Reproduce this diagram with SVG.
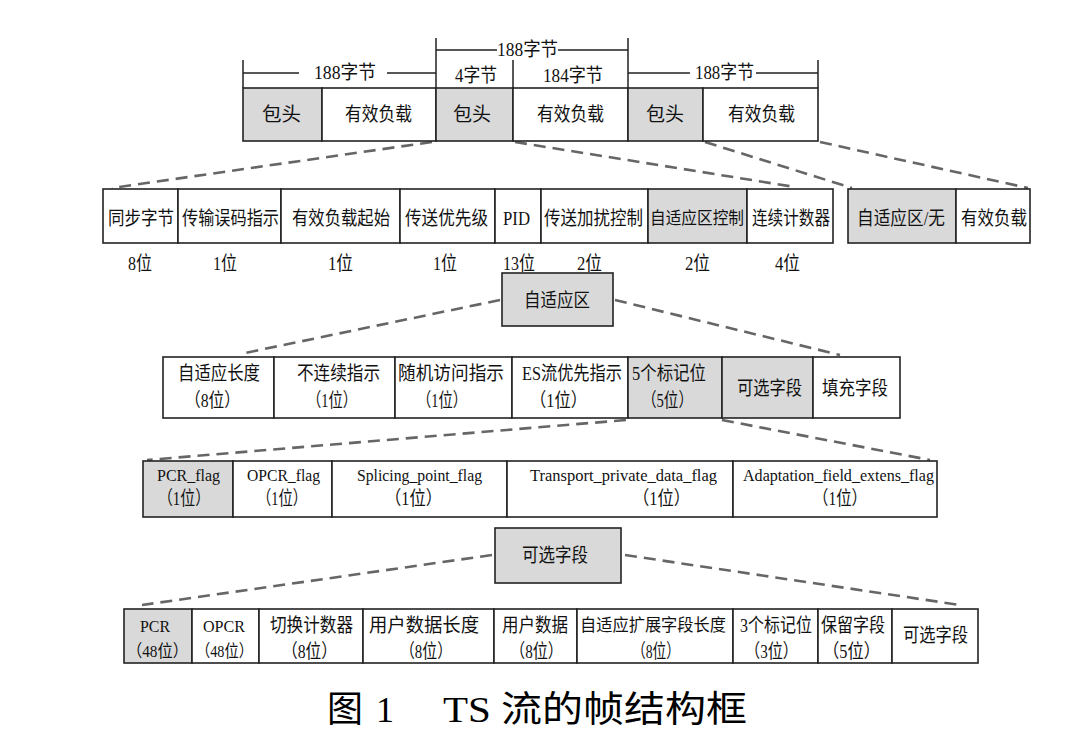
<svg xmlns="http://www.w3.org/2000/svg" width="1073" height="744" viewBox="0 0 1073 744">
<style>
.b{fill:#fff;stroke:#222;stroke-width:1.6}
.g{fill:#d9d9d9;stroke:#222;stroke-width:1.6}
.d{fill:none;stroke:#666;stroke-width:2.6;stroke-dasharray:12 7}
.dim{fill:none;stroke:#222;stroke-width:1.5}
.t{font-family:"Liberation Serif","Noto Sans CJK SC",serif;font-size:19px;fill:#111}
.s{font-size:17px}
.l{font-family:"Liberation Serif","Noto Sans CJK SC",serif;font-size:17px;fill:#111}
.c{font-family:"Liberation Serif","Noto Sans CJK SC",serif;font-size:36px;fill:#000}
</style>
<rect width="1073" height="744" fill="#fff"/>

<g id="connectors">
<path class="dim" d="M243,60V88M436,38V88M513,60V88M628,38V88M818,60V88"/>
<path class="dim" d="M243,73H299M387,73H436M436,50H497M558,50H628M628,73H690M756,73H818"/>
<path class="d" d="M432,142L112,188"/>
<path class="d" d="M515,142L795,187"/>
<path class="d" d="M705,142L852,188"/>
<path class="d" d="M820,142L1028,188"/>
<path class="d" d="M500,300L245,353"/>
<path class="d" d="M615,300L840,355"/>
<path class="d" d="M626,420L147,460"/>
<path class="d" d="M722,420L930,460"/>
<path class="d" d="M492,555L142,605"/>
<path class="d" d="M625,555L960,605"/>
</g>

<g id="dim-labels">
<text class="t" x="314" y="79" textLength="62" lengthAdjust="spacingAndGlyphs">188字节</text>
<text class="t" x="497" y="56" textLength="61" lengthAdjust="spacingAndGlyphs">188字节</text>
<text class="t" x="695" y="79" textLength="59" lengthAdjust="spacingAndGlyphs">188字节</text>
<text class="t" x="455" y="82" textLength="42" lengthAdjust="spacingAndGlyphs">4字节</text>
<text class="t" x="543" y="82" textLength="60" lengthAdjust="spacingAndGlyphs">184字节</text>
</g>

<g id="packet1-header"><rect class="g" x="243" y="88" width="79" height="53"/><text class="t" x="262" y="121" textLength="39" lengthAdjust="spacingAndGlyphs">包头</text></g>
<g id="packet1-payload"><rect class="b" x="322" y="88" width="114" height="53"/><text class="t" x="345" y="121" textLength="67" lengthAdjust="spacingAndGlyphs">有效负载</text></g>
<g id="packet2-header"><rect class="g" x="436" y="88" width="77" height="53"/><text class="t" x="453" y="121" textLength="38" lengthAdjust="spacingAndGlyphs">包头</text></g>
<g id="packet2-payload"><rect class="b" x="513" y="88" width="115" height="53"/><text class="t" x="537" y="121" textLength="67" lengthAdjust="spacingAndGlyphs">有效负载</text></g>
<g id="packet3-header"><rect class="g" x="628" y="88" width="75" height="53"/><text class="t" x="646" y="121" textLength="38" lengthAdjust="spacingAndGlyphs">包头</text></g>
<g id="packet3-payload"><rect class="b" x="703" y="88" width="115" height="53"/><text class="t" x="728" y="121" textLength="67" lengthAdjust="spacingAndGlyphs">有效负载</text></g>

<g id="sync"><rect class="b" x="103" y="189" width="75" height="54"/><text class="t" x="108" y="225" textLength="66" lengthAdjust="spacingAndGlyphs">同步字节</text><text class="t" x="128" y="270" textLength="24" lengthAdjust="spacingAndGlyphs">8位</text></g>
<g id="tei"><rect class="b" x="178" y="189" width="103" height="54"/><text class="t" x="182" y="225" textLength="97" lengthAdjust="spacingAndGlyphs">传输误码指示</text><text class="t" x="213" y="270" textLength="24" lengthAdjust="spacingAndGlyphs">1位</text></g>
<g id="pusi"><rect class="b" x="281" y="189" width="119" height="54"/><text class="t" x="292" y="225" textLength="98" lengthAdjust="spacingAndGlyphs">有效负载起始</text><text class="t" x="328" y="270" textLength="25" lengthAdjust="spacingAndGlyphs">1位</text></g>
<g id="priority"><rect class="b" x="400" y="189" width="95" height="54"/><text class="t" x="405" y="225" textLength="83" lengthAdjust="spacingAndGlyphs">传送优先级</text><text class="t" x="433" y="270" textLength="24" lengthAdjust="spacingAndGlyphs">1位</text></g>
<g id="pid"><rect class="b" x="495" y="189" width="46" height="54"/><text class="t" x="503" y="225" textLength="27" lengthAdjust="spacingAndGlyphs">PID</text><text class="t" x="503" y="270" textLength="32" lengthAdjust="spacingAndGlyphs">13位</text></g>
<g id="scrambling"><rect class="b" x="541" y="189" width="107" height="54"/><text class="t" x="544" y="225" textLength="99" lengthAdjust="spacingAndGlyphs">传送加扰控制</text><text class="t" x="577" y="270" textLength="25" lengthAdjust="spacingAndGlyphs">2位</text></g>
<g id="afc"><rect class="g" x="648" y="189" width="99" height="54"/><text class="t s" x="650" y="224" textLength="94" lengthAdjust="spacingAndGlyphs">自适应区控制</text><text class="t" x="685" y="270" textLength="25" lengthAdjust="spacingAndGlyphs">2位</text></g>
<g id="cc"><rect class="b" x="747" y="189" width="86" height="54"/><text class="t" x="752" y="225" textLength="78" lengthAdjust="spacingAndGlyphs">连续计数器</text><text class="t" x="775" y="270" textLength="25" lengthAdjust="spacingAndGlyphs">4位</text></g>

<g id="af-or-none"><rect class="g" x="848" y="189" width="108" height="54"/><text class="t" x="857" y="225" textLength="88" lengthAdjust="spacingAndGlyphs">自适应区/无</text></g>
<g id="payload-right"><rect class="b" x="956" y="189" width="74" height="54"/><text class="t" x="961" y="225" textLength="66" lengthAdjust="spacingAndGlyphs">有效负载</text></g>

<g id="adaptation-field"><rect class="g" x="502" y="273" width="111" height="53"/><text class="t" x="524" y="307" textLength="66" lengthAdjust="spacingAndGlyphs">自适应区</text></g>

<g id="af-length"><rect class="b" x="163" y="357" width="111" height="61"/><text class="t" x="178" y="380" textLength="82" lengthAdjust="spacingAndGlyphs">自适应长度</text><text class="t" x="185" y="407" textLength="55" lengthAdjust="spacingAndGlyphs">（8位）</text></g>
<g id="discontinuity"><rect class="b" x="274" y="357" width="121" height="61"/><text class="t" x="297" y="380" textLength="83" lengthAdjust="spacingAndGlyphs">不连续指示</text><text class="t" x="307" y="407" textLength="50" lengthAdjust="spacingAndGlyphs">（1位）</text></g>
<g id="random-access"><rect class="b" x="395" y="357" width="117" height="61"/><text class="t" x="398" y="380" textLength="106" lengthAdjust="spacingAndGlyphs">随机访问指示</text><text class="t" x="417" y="407" textLength="50" lengthAdjust="spacingAndGlyphs">（1位）</text></g>
<g id="es-priority"><rect class="b" x="512" y="357" width="116" height="61"/><text class="t" x="522" y="380" textLength="100" lengthAdjust="spacingAndGlyphs">ES流优先指示</text><text class="t" x="530" y="407" textLength="57" lengthAdjust="spacingAndGlyphs">（1位）</text></g>
<g id="five-flags"><rect class="g" x="628" y="357" width="94" height="61"/><text class="t" x="632" y="380" textLength="74" lengthAdjust="spacingAndGlyphs">5个标记位</text><text class="t" x="642" y="407" textLength="51" lengthAdjust="spacingAndGlyphs">（5位）</text></g>
<g id="optional-fields"><rect class="g" x="722" y="357" width="91" height="61"/><text class="t" x="737" y="395" textLength="65" lengthAdjust="spacingAndGlyphs">可选字段</text></g>
<g id="stuffing"><rect class="b" x="813" y="357" width="87" height="61"/><text class="t" x="822" y="395" textLength="66" lengthAdjust="spacingAndGlyphs">填充字段</text></g>

<g id="pcr-flag"><rect class="g" x="143" y="461" width="90" height="56"/><text class="l" x="157" y="481" textLength="63" lengthAdjust="spacingAndGlyphs">PCR_flag</text><text class="t" x="158" y="505" textLength="52" lengthAdjust="spacingAndGlyphs">（1位）</text></g>
<g id="opcr-flag"><rect class="b" x="233" y="461" width="99" height="56"/><text class="l" x="247" y="481" textLength="73" lengthAdjust="spacingAndGlyphs">OPCR_flag</text><text class="t" x="257" y="505" textLength="50" lengthAdjust="spacingAndGlyphs">（1位）</text></g>
<g id="splicing-flag"><rect class="b" x="332" y="461" width="175" height="56"/><text class="l" x="357" y="481" textLength="125" lengthAdjust="spacingAndGlyphs">Splicing_point_flag</text><text class="t" x="385" y="505" textLength="57" lengthAdjust="spacingAndGlyphs">（1位）</text></g>
<g id="private-data-flag"><rect class="b" x="507" y="461" width="226" height="56"/><text class="l" x="530" y="481" textLength="187" lengthAdjust="spacingAndGlyphs">Transport_private_data_flag</text><text class="t" x="633" y="505" textLength="57" lengthAdjust="spacingAndGlyphs">（1位）</text></g>
<g id="extension-flag"><rect class="b" x="733" y="461" width="204" height="56"/><text class="l" x="743" y="481" textLength="191" lengthAdjust="spacingAndGlyphs">Adaptation_field_extens_flag</text><text class="t" x="813" y="505" textLength="54" lengthAdjust="spacingAndGlyphs">（1位）</text></g>

<g id="optional-field-box"><rect class="g" x="495" y="528" width="126" height="55"/><text class="t" x="522" y="562" textLength="66" lengthAdjust="spacingAndGlyphs">可选字段</text></g>

<g id="pcr"><rect class="g" x="124" y="609" width="68" height="54"/><text class="l" x="140" y="632" textLength="30" lengthAdjust="spacingAndGlyphs">PCR</text><text class="t s" x="127" y="657" textLength="61" lengthAdjust="spacingAndGlyphs">（48位）</text></g>
<g id="opcr"><rect class="b" x="192" y="609" width="67" height="54"/><text class="l" x="203" y="632" textLength="42" lengthAdjust="spacingAndGlyphs">OPCR</text><text class="t s" x="196" y="657" textLength="57" lengthAdjust="spacingAndGlyphs">（48位）</text></g>
<g id="splice-countdown"><rect class="b" x="259" y="609" width="104" height="54"/><text class="t" x="270" y="632" textLength="83" lengthAdjust="spacingAndGlyphs">切换计数器</text><text class="t" x="282" y="658" textLength="55" lengthAdjust="spacingAndGlyphs">（8位）</text></g>
<g id="user-data-length"><rect class="b" x="363" y="609" width="131" height="54"/><text class="t" x="369" y="632" textLength="110" lengthAdjust="spacingAndGlyphs">用户数据长度</text><text class="t" x="400" y="658" textLength="52" lengthAdjust="spacingAndGlyphs">（8位）</text></g>
<g id="user-data"><rect class="b" x="494" y="609" width="83" height="54"/><text class="t" x="502" y="632" textLength="66" lengthAdjust="spacingAndGlyphs">用户数据</text><text class="t" x="510" y="658" textLength="53" lengthAdjust="spacingAndGlyphs">（8位）</text></g>
<g id="ext-length"><rect class="b" x="577" y="609" width="156" height="54"/><text class="t s" x="580" y="631" textLength="146" lengthAdjust="spacingAndGlyphs">自适应扩展字段长度</text><text class="t" x="632" y="658" textLength="48" lengthAdjust="spacingAndGlyphs">（8位）</text></g>
<g id="three-flags"><rect class="b" x="733" y="609" width="85" height="54"/><text class="t" x="740" y="632" textLength="72" lengthAdjust="spacingAndGlyphs">3个标记位</text><text class="t" x="745" y="658" textLength="53" lengthAdjust="spacingAndGlyphs">（3位）</text></g>
<g id="reserved"><rect class="b" x="818" y="609" width="74" height="54"/><text class="t" x="821" y="632" textLength="64" lengthAdjust="spacingAndGlyphs">保留字段</text><text class="t" x="823" y="658" textLength="57" lengthAdjust="spacingAndGlyphs">（5位）</text></g>
<g id="optional-fields-2"><rect class="b" x="892" y="609" width="86" height="54"/><text class="t" x="903" y="642" textLength="65" lengthAdjust="spacingAndGlyphs">可选字段</text></g>

<g id="caption">
<text class="c" y="722"><tspan x="327">图</tspan><tspan x="376">1</tspan><tspan x="443" textLength="304" lengthAdjust="spacingAndGlyphs">TS 流的帧结构框</tspan></text>
</g>
</svg>
